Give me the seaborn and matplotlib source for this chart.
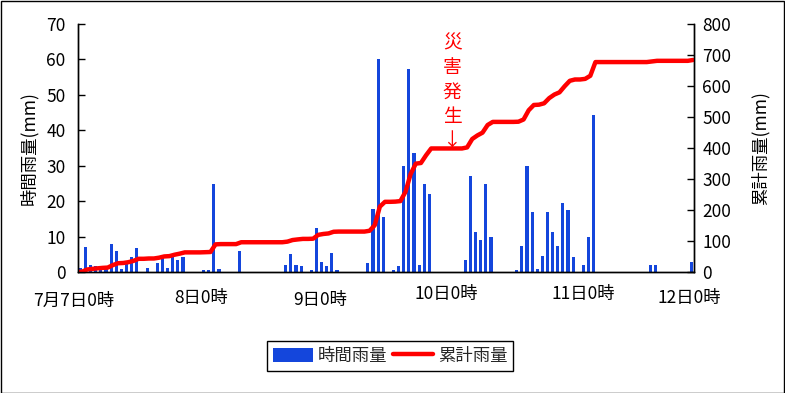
import numpy as np
import pandas as pd
import matplotlib
matplotlib.use("Agg")
import matplotlib.pyplot as plt
import seaborn as sns
from matplotlib.transforms import ScaledTranslation
from matplotlib.patches import Patch, Rectangle
from matplotlib.lines import Line2D

# ---- data (hourly rainfall, mm, 7/7 0h .. 7/11 23h) ----
hourly_rain = [
    1.0, 7.1, 2.0, 1.7, 1.5, 1.0, 8.0, 6.0, 0.8, 2.5, 4.2, 6.8,
    0.0, 1.0, 0.0, 2.6, 4.0, 1.0, 4.5, 3.4, 4.2, 0.0, 0.0, 0.0,
    0.6, 0.6, 24.7, 0.8, 0.0, 0.0, 0.0, 6.0, 0.0, 0.0, 0.0, 0.0,
    0.0, 0.0, 0.0, 0.0, 2.0, 5.1, 2.0, 1.7, 0.0, 0.6, 12.4, 2.9,
    1.7, 5.4, 0.6, 0.0, 0.0, 0.0, 0.0, 0.0, 2.6, 17.8, 60.0, 15.6,
    0.0, 0.6, 1.7, 30.0, 57.3, 33.6, 2.0, 24.9, 22.0, 0.0, 0.0, 0.0,
    0.0, 0.0, 0.0, 3.4, 27.2, 11.4, 9.0, 24.7, 10.0, 0.0, 0.0, 0.0,
    0.0, 0.6, 7.2, 29.8, 17.0, 0.9, 4.5, 16.8, 11.4, 7.2, 19.6, 17.5,
    4.3, 0.0, 2.0, 10.0, 44.2, 0.0, 0.0, 0.0, 0.0, 0.0, 0.0, 0.0,
    0.0, 0.0, 0.0, 2.0, 2.0, 0.0, 0.0, 0.0, 0.0, 0.0, 0.0, 2.7,
]
x_tick_hours = [0, 24, 48, 72, 96, 120]
x_tick_labels = ["7月7日0時", "8日0時", "9日0時", "10日0時", "11日0時", "12日0時"]
left_ticks = list(range(0, 71, 10))
right_ticks = list(range(0, 801, 100))
bar_label = "時間雨量"
line_label = "累計雨量"
left_ylabel = "時間雨量(mm)"
right_ylabel = "累計雨量(mm)"
event_hour = 72.9
event_text = "災\n害\n発\n生\n↓"

# ---- style ----
bar_color = "#1446DC"
line_color = "#FF0000"
FS = 12.5

sns.set_theme(style="white")
plt.rcParams['font.family'] = ['Noto Sans CJK JP', 'DejaVu Sans']

W, H = 785, 393
fig = plt.figure(figsize=(W / 100, H / 100), dpi=100)
fig.patch.set_facecolor("white")
ax = fig.add_axes([78 / W, 1 - 272 / H, (694 - 78) / W, (272 - 24) / H])
ax2 = ax.twinx()

hours = np.arange(len(hourly_rain))
df = pd.DataFrame({"x": hours + 0.46, "rain": hourly_rain})
sns.barplot(data=df, x="x", y="rain", native_scale=True, width=0.62,
            color=bar_color, saturation=1, errorbar=None, ax=ax,
            edgecolor="none", linewidth=0)

cum = np.concatenate([[0.0], np.cumsum(hourly_rain)])
line_x = np.concatenate([[0.0], hours + 0.8])
sns.lineplot(x=line_x, y=cum, ax=ax2, color=line_color, linewidth=3.2,
             solid_capstyle="round", solid_joinstyle="round")

ax.set_xlim(0, 120)
ax.set_ylim(0, 70)
ax2.set_ylim(0, 800)
ax.set_yticks(left_ticks)
ax2.set_yticks(right_ticks)
ax.set_xticks(x_tick_hours)
ax.set_xticklabels(x_tick_labels)
ax.set_xlabel("")
ax.set_ylabel(left_ylabel, fontsize=FS, labelpad=6, color="black")
ax2.set_ylabel(right_ylabel, fontsize=FS, labelpad=14, color="black")

ax.tick_params(axis="y", direction="in", length=5, width=1, left=True,
               labelsize=FS, pad=9, colors="black")
ax2.tick_params(axis="y", direction="in", length=5, width=1, right=True,
                labelsize=FS, pad=6, colors="black")
ax.tick_params(axis="x", length=0, labelsize=FS, pad=9, colors="black")

# staggered x tick labels as in the original
offsets_px = [(-4, -7), (0, -5), (-4, -7), (-1, 0), (13, 0), (-5, -5)]
for lab, (dx, dy) in zip(ax.get_xticklabels(), offsets_px):
    lab.set_transform(lab.get_transform() +
                      ScaledTranslation(dx / 100, dy / 100, fig.dpi_scale_trans))

for a in (ax, ax2):
    for s in a.spines.values():
        s.set_color("black")
        s.set_linewidth(1)
    a.spines["top"].set_visible(False)
ax2.grid(False)
ax.grid(False)

ax2.text(event_hour, 772, event_text, color=line_color, fontsize=13.5,
         ha="center", va="top", linespacing=1.22)

handles = [Patch(facecolor=bar_color, edgecolor="none", label=bar_label),
           Line2D([0], [0], color=line_color, lw=3.2, label=line_label)]
leg = fig.legend(handles=handles, loc="center", bbox_to_anchor=(390 / W, 1 - 356 / H),
                 ncol=2, frameon=True, fancybox=False, edgecolor="black",
                 framealpha=1, fontsize=FS, handlelength=2.3, handleheight=0.9,
                 handletextpad=0.3, columnspacing=0.3, borderpad=0.35)
leg.get_frame().set_linewidth(1)

fig.add_artist(Rectangle((0.5 / W, 0.5 / H), 1 - 1.5 / W, 1 - 1.5 / H,
                         transform=fig.transFigure, fill=False,
                         edgecolor="black", lw=1))

fig.savefig("out.png", dpi=100)
